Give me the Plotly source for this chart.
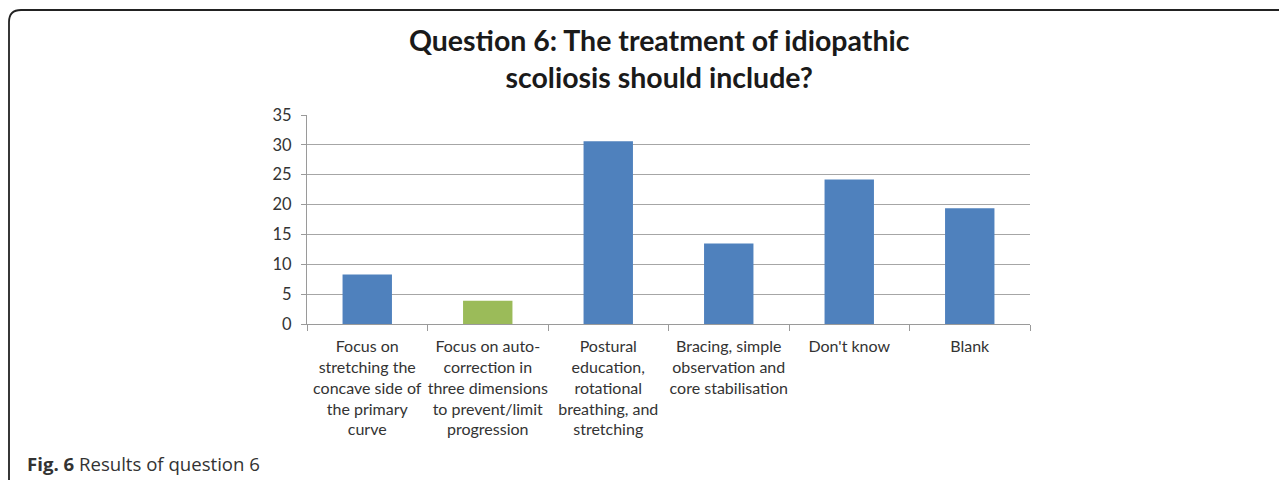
import plotly.graph_objects as go

# Data
CATEGORIES = [
    "Focus on<br>stretching the<br>concave side of<br>the primary<br>curve",
    "Focus on auto-<br>correction in<br>three dimensions<br>to prevent/limit<br>progression",
    "Postural<br>education,<br>rotational<br>breathing, and<br>stretching",
    "Bracing, simple<br>observation and<br>core stabilisation",
    "Don't know",
    "Blank",
]
VALUES = [8.3, 3.9, 30.6, 13.5, 24.2, 19.4]
BAR_COLORS = ["#4F81BD", "#9BBB59", "#4F81BD", "#4F81BD", "#4F81BD", "#4F81BD"]
Y_TICKS = [0, 5, 10, 15, 20, 25, 30, 35]

W, H = 1287, 480
OFF = 8  # the page body has an 8px margin, so work in page pixels minus this
PLOT_X0, PLOT_X1 = 307 - OFF, 1030 - OFF
PLOT_Y0, PLOT_Y1 = 115 - OFF, 324 - OFF
L, R, T, B = PLOT_X0, W - PLOT_X1, PLOT_Y0, H - PLOT_Y1
FONT = "Lato, 'Open Sans', sans-serif"


def px_to_paper(x, y):
    """Page pixel coords -> paper coords for shapes/annotations."""
    x, y = x - OFF, y - OFF
    return (x - PLOT_X0) / (PLOT_X1 - PLOT_X0), (PLOT_Y1 - y) / (PLOT_Y1 - PLOT_Y0)


fig = go.Figure(
    go.Bar(
        x=CATEGORIES,
        y=VALUES,
        marker=dict(color=BAR_COLORS, line=dict(width=0)),
        width=0.41,
        hoverinfo="skip",
    )
)

# rounded frame around the figure
x0, y0 = px_to_paper(9, 10)
x1, y1 = px_to_paper(1300, 500)
rx, ry = px_to_paper(9 + 12, 10 + 12)
path = (f"M {x0},{ry} Q {x0},{y0} {rx},{y0} L {x1},{y0} "
        f"M {x0},{ry} L {x0},{y1}")
fig.add_shape(type="path", xref="paper", yref="paper", path=path,
              line=dict(color="#222222", width=1.8))

cx, cy = px_to_paper(25, 463)
fig.add_annotation(
    x=cx, y=cy, xref="paper", yref="paper", xanchor="left", yanchor="middle",
    text="<b>Fig. 6</b> Results of question 6", showarrow=False,
    font=dict(family="'Open Sans', sans-serif", size=18.6, color="#333333"),
)

fig.update_layout(
    width=W, height=H,
    margin=dict(l=L, r=R, t=T, b=B),
    paper_bgcolor="white",
    plot_bgcolor="white",
    showlegend=False,
    font=dict(family=FONT, size=16, color="#333333"),
    title=dict(
        text="<b>Question 6: The treatment of idiopathic<br>scoliosis should include?</b>",
        x=0.506, xanchor="center", y=1 - (51 - OFF) / H, yanchor="middle",
        font=dict(family=FONT, size=28.5, color="#1a1a1a"),
    ),
    xaxis=dict(
        type="category",
        showgrid=False,
        showline=True, linecolor="#9a9a9a", linewidth=1,
        ticks="outside", tickson="boundaries", ticklen=6, tickcolor="#9a9a9a",
        tickangle=0,
        ticklabelstandoff=8,
        tickfont=dict(size=16, color="#333333"),
    ),
    yaxis=dict(
        range=[0, 35],
        tickvals=Y_TICKS,
        showgrid=True, gridcolor="#a6a6a6", gridwidth=1,
        showline=True, linecolor="#9a9a9a", linewidth=1,
        zeroline=False,
        ticks="outside", ticklen=5, tickcolor="#9a9a9a",
        ticklabelstandoff=6,
        tickfont=dict(size=16.5, color="#333333"),
    ),
)

fig.write_html("out.html")
